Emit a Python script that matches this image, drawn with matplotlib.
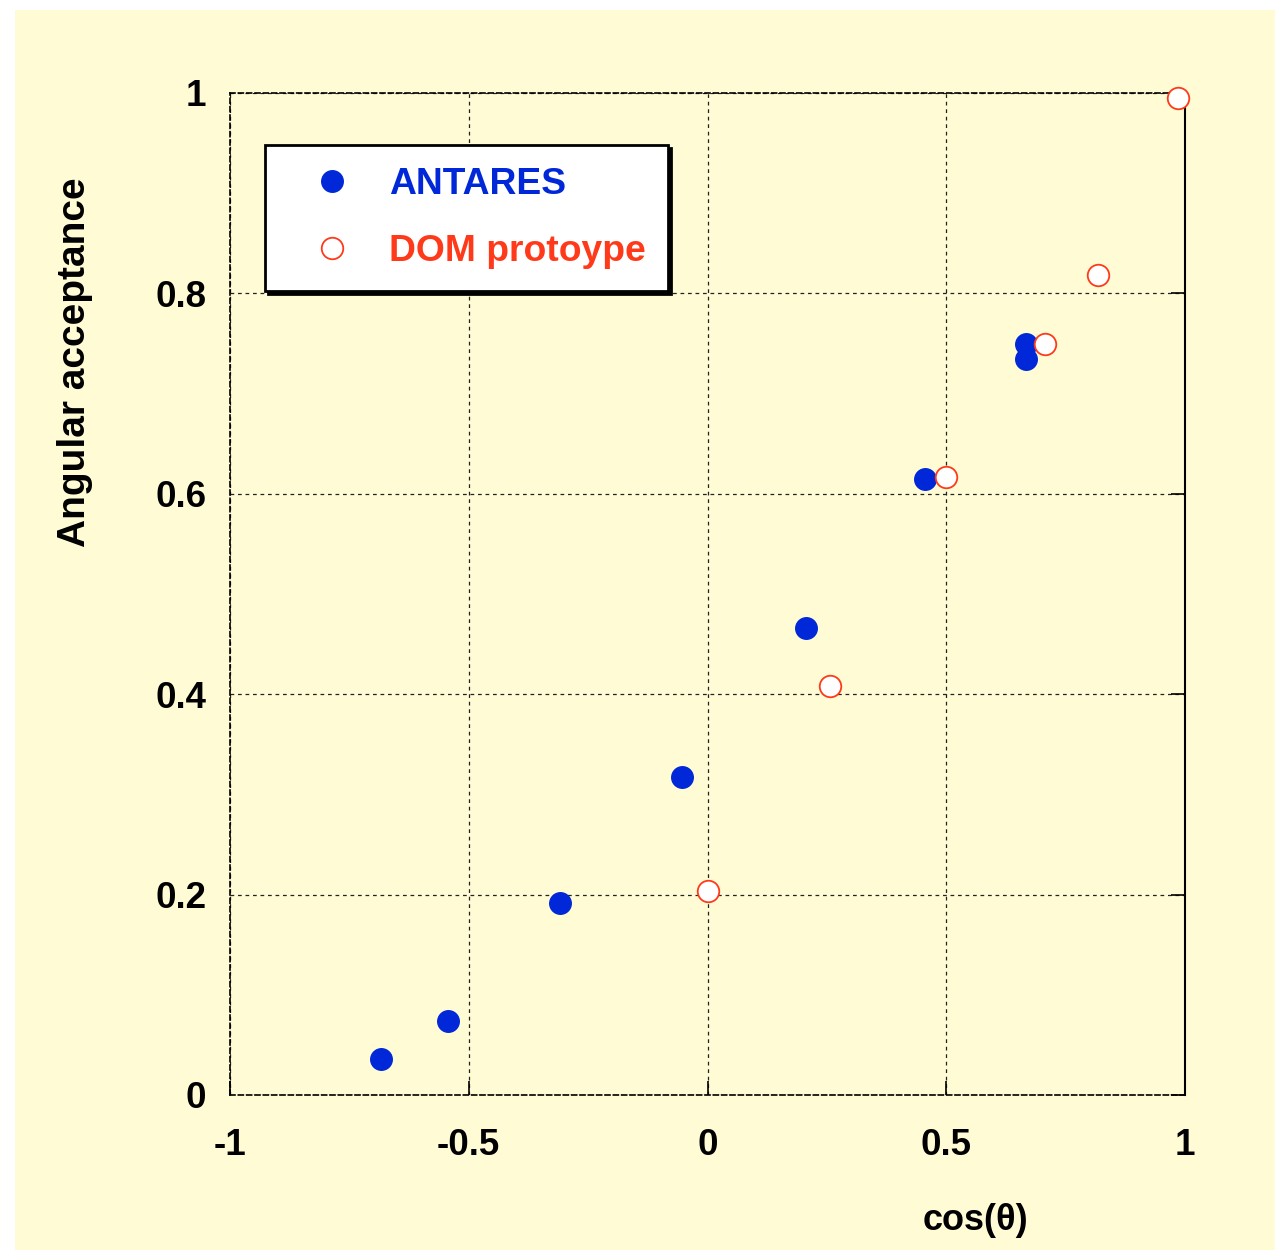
import matplotlib.pyplot as plt
from matplotlib.patches import Rectangle

plt.rcParams['font.family'] = ['Liberation Sans', 'DejaVu Sans']
plt.rcParams['font.weight'] = 'bold'

# Data
antares_x = [-0.684, -0.543, -0.309, -0.053, 0.206, 0.456, 0.667, 0.667]
antares_y = [0.036, 0.074, 0.192, 0.317, 0.466, 0.615, 0.750, 0.735]

dom_x = [0.0, 0.257, 0.50, 0.707, 0.818, 0.985]
dom_y = [0.204, 0.408, 0.617, 0.750, 0.818, 0.995]

x_ticks = [-1, -0.5, 0, 0.5, 1]
x_tick_labels = ['-1', '-0.5', '0', '0.5', '1']
y_ticks = [0, 0.2, 0.4, 0.6, 0.8, 1]
y_tick_labels = ['0', '0.2', '0.4', '0.6', '0.8', '1']

yellow = '#FFFCD5'
blue = '#0028D8'
red = '#FF3A1A'

fig = plt.figure(figsize=(12.82, 12.53), dpi=100, facecolor='white')
fig.patches.append(Rectangle((15 / 1282, 1 - 1250 / 1253), 1260 / 1282, 1240 / 1253,
                             transform=fig.transFigure, facecolor=yellow,
                             edgecolor='none', zorder=-10))

ax = fig.add_axes([230 / 1282, 1 - 1095 / 1253, 955 / 1282, 1002 / 1253])
ax.set_facecolor(yellow)

ax.plot(antares_x, antares_y, 'o', ms=15.5, color=blue, mec=blue, label='ANTARES',
        zorder=3, clip_on=False)
ax.plot(dom_x, dom_y, 'o', ms=15.5, mfc='white', mec=red, mew=1.3, label='DOM protoype',
        zorder=4, clip_on=False)

ax.set_xlim(-1, 1)
ax.set_ylim(0, 1)
ax.set_xticks(x_ticks)
ax.set_xticklabels(x_tick_labels)
ax.set_yticks(y_ticks)
ax.set_yticklabels(y_tick_labels)
ax.tick_params(axis='both', labelsize=26.5, direction='in', length=10, width=1.2,
               colors='black')
ax.tick_params(axis='x', pad=24, top=False, bottom=True)
ax.tick_params(axis='y', pad=17, left=False, right=True)

ax.grid(True, color='#222222', linestyle=(0, (3, 3)), linewidth=0.9)
for side in ['left', 'top', 'bottom']:
    ax.spines[side].set_linestyle((0, (3, 2)))
    ax.spines[side].set_linewidth(1.2)
ax.spines['right'].set_linewidth(1.5)

leg = ax.legend(loc='upper left', bbox_to_anchor=(0.037, 0.948), borderaxespad=0,
                fontsize=26.8, frameon=True, fancybox=False, edgecolor='black',
                framealpha=1, shadow={'color': 'black', 'alpha': 1},
                handletextpad=0.32, borderpad=0.6, labelspacing=0.85,
                handlelength=2.4)
leg.get_frame().set_linewidth(2)
leg.get_texts()[0].set_color(blue)
leg.get_texts()[1].set_color(red)

fig.text(75 / 1282, 1 - 362 / 1253, 'Angular acceptance', rotation=90,
         ha='center', va='center', fontsize=28)
fig.text(975 / 1282, 1 - 1220 / 1253, 'cos(θ)', ha='center', va='center', fontsize=26)

fig.savefig('out.png', dpi=100, facecolor='white')
